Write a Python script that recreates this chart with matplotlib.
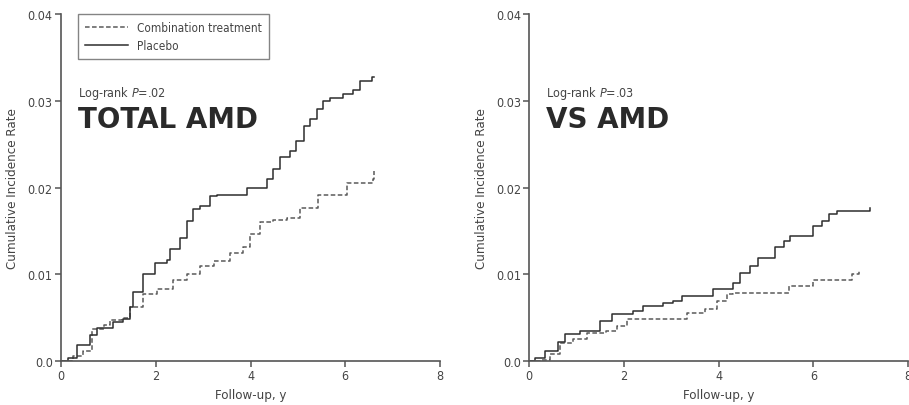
import matplotlib
matplotlib.use("Agg")
import matplotlib.pyplot as plt

plt.rcParams['font.family'] = ['DejaVu Sans']
plt.rcParams['font.stretch'] = 'condensed'

# ---- data: TOTAL AMD ----
total_placebo_x = [0, 0.15, 0.33, 0.54, 0.62, 0.75, 0.96, 1.1, 1.3, 1.45, 1.53, 1.74, 1.98, 2.23, 2.3, 2.51, 2.65,
                   2.79, 2.93, 3.15, 3.29, 3.85, 3.92, 4.13, 4.34, 4.48, 4.62, 4.83, 4.97, 5.12, 5.26, 5.40,
                   5.54, 5.68, 5.96, 6.17, 6.31, 6.56, 6.6]
total_placebo_y = [0, 0.0004, 0.0019, 0.0019, 0.003, 0.0038, 0.0038, 0.0045, 0.0049, 0.0062, 0.008, 0.0100, 0.0113,
                   0.0117, 0.0129, 0.0142, 0.0161, 0.0175, 0.0179, 0.0190, 0.0192, 0.0192, 0.0200, 0.0200, 0.0210,
                   0.0221, 0.0235, 0.0242, 0.0254, 0.0271, 0.0279, 0.0290, 0.0300, 0.0303, 0.0308, 0.0313,
                   0.0323, 0.0327, 0.0328]
total_combo_x = [0, 0.26, 0.47, 0.65, 0.9, 1.03, 1.28, 1.46, 1.74, 2.02, 2.37, 2.65, 2.93, 3.22, 3.57, 3.85, 3.99,
                 4.2, 4.48, 4.76, 5.05, 5.29, 5.43, 5.89, 6.03, 6.38, 6.58, 6.6]
total_combo_y = [0, 0.0006, 0.0012, 0.0037, 0.0042, 0.0047, 0.0050, 0.0062, 0.0077, 0.0083, 0.0094, 0.0100,
                 0.0110, 0.0115, 0.0125, 0.0131, 0.0146, 0.0160, 0.0163, 0.0165, 0.0177, 0.0177, 0.0192,
                 0.0192, 0.0205, 0.0205, 0.0210, 0.0219]

# ---- data: VS AMD ----
vs_placebo_x = [0, 0.12, 0.33, 0.58, 0.61, 0.75, 1.07, 1.42, 1.49, 1.74, 2.2, 2.41, 2.83, 3.04, 3.22, 3.82, 3.89,
                4.17, 4.31, 4.45, 4.67, 4.84, 5.09, 5.19, 5.37, 5.51, 5.86, 6.0, 6.18, 6.32, 6.5, 7.17, 7.2]
vs_placebo_y = [0, 0.0004, 0.0012, 0.0012, 0.0022, 0.0031, 0.0035, 0.0035, 0.0046, 0.0054, 0.0058, 0.0063,
                0.0067, 0.0069, 0.0075, 0.0075, 0.0083, 0.0083, 0.0090, 0.0102, 0.0110, 0.0119, 0.0119,
                0.0131, 0.0138, 0.0144, 0.0144, 0.0156, 0.0162, 0.0169, 0.0173, 0.0173, 0.0177]
vs_combo_x = [0, 0.26, 0.44, 0.65, 0.93, 1.21, 1.63, 1.85, 2.06, 3.11, 3.33, 3.71, 3.96, 4.17, 4.31, 5.3, 5.48,
              5.79, 6.0, 6.64, 6.81, 6.96]
vs_combo_y = [0, 0.0001, 0.0008, 0.0021, 0.0025, 0.0033, 0.0035, 0.0040, 0.0048, 0.0048, 0.0056, 0.0060,
              0.0069, 0.0077, 0.0079, 0.0079, 0.0087, 0.0087, 0.0094, 0.0094, 0.0101, 0.0104]

x_ticks = [0, 2, 4, 6, 8]
y_ticks = [0.0, 0.01, 0.02, 0.03, 0.04]
y_tick_labels = ["0.0", "0.01", "0.02", "0.03", "0.04"]

panels = [
    ("TOTAL AMD", "Log-rank $P$=.02", total_placebo_x, total_placebo_y, total_combo_x, total_combo_y, True),
    ("VS AMD", "Log-rank $P$=.03", vs_placebo_x, vs_placebo_y, vs_combo_x, vs_combo_y, False),
]

fig = plt.figure(figsize=(9.09, 4.06), dpi=100)
rects = [[0.0671, 0.108, 0.417, 0.855], [0.5823, 0.108, 0.4167, 0.855]]
axcol = "#555555"
txtcol = "#444444"

for rect, (title, ptxt, px, py, cx, cy, show_leg) in zip(rects, panels):
    ax = fig.add_axes(rect)
    ax.step(cx, cy, where="post", color="#5a5a5a", lw=1.1, ls=(0, (3, 1.6)), label="Combination treatment")
    ax.step(px, py, where="post", color="#2e2e2e", lw=1.1, label="Placebo")
    ax.set_xlim(0, 8)
    ax.set_ylim(0, 0.04)
    ax.set_xticks(x_ticks)
    ax.set_yticks(y_ticks)
    ax.set_yticklabels(y_tick_labels)
    for s in ["top", "right"]:
        ax.spines[s].set_visible(False)
    for s in ["left", "bottom"]:
        ax.spines[s].set_color(axcol)
        ax.spines[s].set_linewidth(1.2)
    ax.tick_params(colors=axcol, labelcolor=txtcol, labelsize=9, length=4, width=1.1, pad=2)
    ax.set_xlabel("Follow-up, y", fontsize=9.5, color=txtcol, labelpad=4)
    ax.set_ylabel("Cumulative Incidence Rate", fontsize=9.5, color=txtcol, labelpad=6)
    ax.text(0.045, 0.75, ptxt, transform=ax.transAxes, fontsize=9, color=txtcol, va="bottom")
    ax.text(0.045, 0.738, title, transform=ax.transAxes, fontsize=20, fontweight="heavy",
            fontstretch="normal", color="#2a2a2a", va="top")
    if show_leg:
        leg = ax.legend(loc="upper left", bbox_to_anchor=(0.045, 1.0), borderaxespad=0, fontsize=8.5,
                        frameon=True, fancybox=False, edgecolor="#666666", handlelength=3.6,
                        borderpad=0.6, labelspacing=0.4)
        for t in leg.get_texts():
            t.set_color(txtcol)
        leg.get_frame().set_linewidth(1.0)

fig.savefig("out.png", dpi=100)
